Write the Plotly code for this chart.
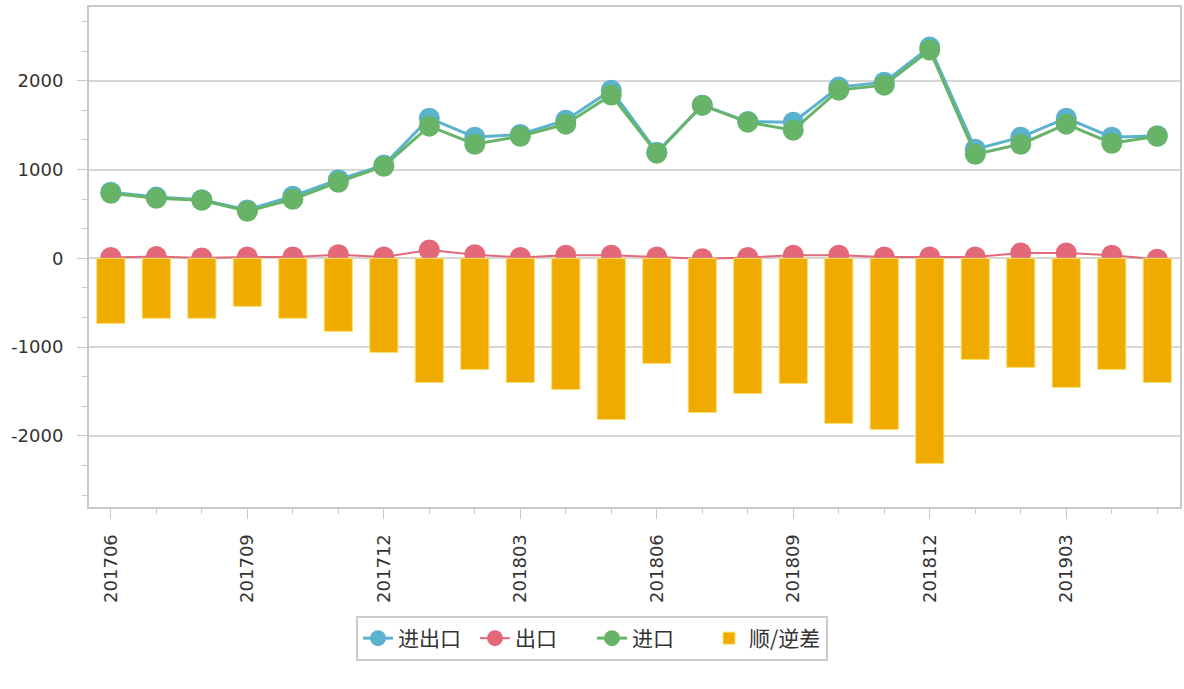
import plotly.graph_objects as go

months = ["201706", "201707", "201708", "201709", "201710", "201711", "201712",
          "201801", "201802", "201803", "201804", "201805", "201806", "201807",
          "201808", "201809", "201810", "201811", "201812", "201901", "201902",
          "201903", "201904", "201905"]

total = [745, 690, 660, 545, 700, 885, 1050, 1578, 1364, 1395, 1556, 1894, 1195, 1725,
         1540, 1533, 1928, 1984, 2379, 1229, 1364, 1578, 1364, 1380]
export = [10, 20, 5, 15, 15, 40, 15, 95, 40, 10, 35, 35, 15, -5, 10, 35, 35, 15, 15, 15,
          60, 60, 35, -10]
imports = [733, 676, 654, 530, 665, 857, 1037, 1488, 1285, 1375, 1511, 1838, 1184, 1725,
           1533, 1443, 1894, 1950, 2345, 1172, 1285, 1511, 1296, 1375]
balance = [-733, -676, -676, -541, -676, -823, -1060, -1398, -1251, -1398, -1477, -1815,
           -1184, -1736, -1522, -1409, -1860, -1928, -2311, -1139, -1229, -1454, -1251, -1398]

x_tick_labels = ["201706", "201709", "201712", "201803", "201806", "201809", "201812", "201903"]
y_tick_vals = [-2000, -1000, 0, 1000, 2000]
y_tick_text = ["-2000", "-1000", "0", "1000", "2000"]

BLUE = "#5ab2cd"
RED = "#e3687a"
GREEN = "#67b469"
ORANGE = "#f0ab00"

fig = go.Figure()
fig.add_trace(go.Scatter(x=months, y=total, name="进出口", mode="lines+markers",
                         line=dict(color=BLUE, width=3),
                         marker=dict(color=BLUE, size=21), yaxis="y2"))
fig.add_trace(go.Scatter(x=months, y=export, name="出口", mode="lines+markers",
                         line=dict(color=RED, width=2),
                         marker=dict(color=RED, size=21), yaxis="y"))
fig.add_trace(go.Scatter(x=months, y=imports, name="进口", mode="lines+markers",
                         line=dict(color=GREEN, width=3),
                         marker=dict(color=GREEN, size=21), yaxis="y2"))
fig.add_trace(go.Bar(x=months, y=balance, name="顺/逆差",
                     marker=dict(color=ORANGE, line=dict(color="#f8e070", width=1)),
                     yaxis="y2"))

yrange = [-2800, 2830]
axis_color = "#c8c8c8"
tick_font = dict(family="DejaVu Sans", size=18, color="#333333")

fig.update_layout(
    width=1184, height=689,
    margin=dict(l=89, r=4, t=7, b=182),
    paper_bgcolor="white", plot_bgcolor="white",
    bargap=0.38,
    showlegend=True,
    xaxis=dict(type="category", categoryorder="array", categoryarray=months,
               range=[-0.48, 23.5], automargin=False,
               tickmode="array", tickvals=x_tick_labels, ticktext=x_tick_labels,
               tickangle=-90, tickfont=tick_font, ticklabelstandoff=8,
               ticks="outside", ticklen=10, tickcolor=axis_color,
               minor=dict(ticks="outside", ticklen=5, dtick=1, tickcolor=axis_color),
               showline=True, linecolor=axis_color, linewidth=2, mirror=True,
               showgrid=False, zeroline=False),
    yaxis=dict(range=yrange, tickmode="array", tickvals=y_tick_vals, ticktext=y_tick_text,
               automargin=False, ticklabelstandoff=10,
               tickfont=tick_font, ticks="outside", ticklen=10, tickcolor=axis_color,
               minor=dict(ticks="outside", ticklen=5, dtick=1000 / 3, tick0=0,
                          tickcolor=axis_color),
               showline=True, linecolor=axis_color, linewidth=2, mirror=True,
               showgrid=True, gridcolor="#d6d6d6", gridwidth=2, zeroline=False),
    yaxis2=dict(range=yrange, overlaying="y", visible=False, showgrid=False,
                zeroline=False, automargin=False),
    legend=dict(orientation="h", xref="container", yref="container",
                x=0.5, xanchor="center", y=1 - 616 / 689, yanchor="top",
                bordercolor="#cccccc", borderwidth=2, bgcolor="white",
                font=dict(family="Noto Sans CJK SC", size=21, color="#333333"),
                entrywidth=72, entrywidthmode="pixels",
                itemsizing="trace", traceorder="normal"),
)

fig.write_html("out.html", config={"displayModeBar": False},
               post_script="document.body.style.margin='0';")
